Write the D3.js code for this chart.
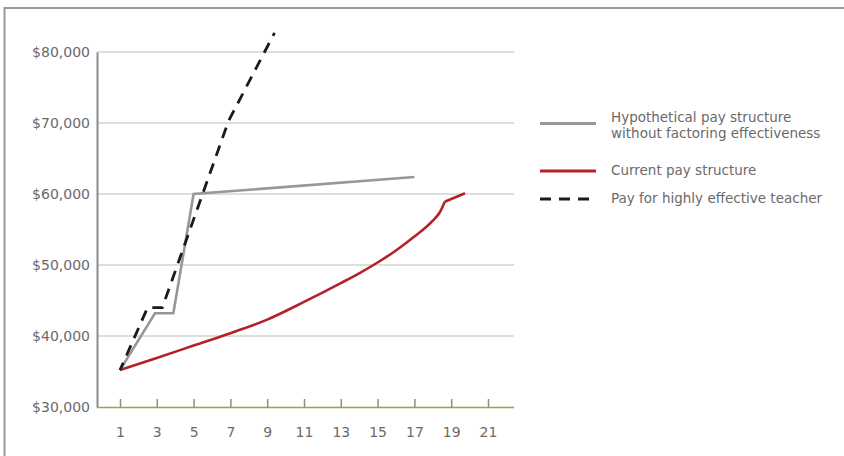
<!DOCTYPE html>
<html><head><meta charset="utf-8">
<script src="https://cdn.jsdelivr.net/npm/d3@7"></script>
<style>body{margin:0;background:#fff}svg{display:block}</style>
</head><body>
<script>
// Data (years of experience → salary)
const yTicks = [30000, 40000, 50000, 60000, 70000, 80000];
const xTicks = [1, 3, 5, 7, 9, 11, 13, 15, 17, 19, 21];
const hypotheticalYears = [1, 2.9, 3.9, 5, 17];
const hypotheticalPay   = [35200, 43200, 43200, 60000, 62400];
const currentYears = [1, 3, 5, 7, 9, 11, 13, 14, 15, 16, 17, 18, 18.4, 18.65, 19.75];
const currentPay   = [35200, 36900, 38650, 40400, 42300, 44800, 47450, 48830, 50350, 52050, 54000, 56250, 57500, 58900, 60100];
const effectiveYears = [1, 2.5, 3.3, 6.9, 9.4];
const effectivePay   = [35200, 44000, 44000, 70300, 82700];
const legendLabels = [
  ["Hypothetical pay structure", "without factoring effectiveness"],
  ["Current pay structure"],
  ["Pay for highly effective teacher"]
];

(function () {
const W = 844, H = 456;
const svg = d3.select("body").append("svg").attr("width", W).attr("height", H);
const font = "'DejaVu Sans', Verdana, sans-serif";

// frame (right/bottom edges cut off)
svg.append("path").attr("d", "M4.5,456 L4.5,8 L844,8")
  .attr("fill", "none").attr("stroke", "#9a9a9a").attr("stroke-width", 2);

const pL = 97, pR = 514, pT = 52, pB = 407;
const x = d3.scaleLinear().domain([1, 21]).range([120, 488]);
const y = d3.scaleLinear().domain([30000, 80000]).range([pB, pT]);

// gridlines
svg.append("g").selectAll("line").data(yTicks.slice(1)).join("line")
  .attr("x1", pL).attr("x2", pR)
  .attr("y1", d => y(d)).attr("y2", d => y(d))
  .attr("stroke", "#bdbdbd").attr("stroke-width", 1.2);

// y axis
const yAxis = svg.append("g").attr("transform", `translate(${pL},0)`)
  .call(d3.axisLeft(y).tickValues(yTicks).tickSize(0).tickPadding(7)
    .tickFormat(d => "$" + d3.format(",")(d)));
yAxis.select(".domain").attr("stroke", "#8c8c8c").attr("stroke-width", 2);
yAxis.selectAll("text").attr("font-family", font).attr("font-size", 14).attr("fill", "#6a6a6a");

// x axis
const xAxis = svg.append("g").attr("transform", `translate(0,${pB})`)
  .call(d3.axisBottom(x).tickValues(xTicks).tickSize(-8).tickPadding(20));
xAxis.select(".domain").remove();
xAxis.selectAll(".tick line").attr("stroke", "#8c8c8c").attr("stroke-width", 1.5);
xAxis.selectAll("text").attr("font-family", font).attr("font-size", 14).attr("fill", "#6a6a6a");
svg.append("line").attr("x1", pL).attr("x2", pR).attr("y1", pB + 0.5).attr("y2", pB + 0.5)
  .attr("stroke", "#a59f3c").attr("stroke-width", 1.5);

const line = d3.line().x(d => x(d[0])).y(d => y(d[1]));
const lineSmooth = d3.line().x(d => x(d[0])).y(d => y(d[1])).curve(d3.curveMonotoneX);

const hyp = hypotheticalYears.map((v, i) => [v, hypotheticalPay[i]]);
const cur = currentYears.map((v, i) => [v, currentPay[i]]);
const eff = effectiveYears.map((v, i) => [v, effectivePay[i]]);
const kink = currentYears.indexOf(18.65);

svg.append("path").datum(cur.slice(0, kink + 1)).attr("d", lineSmooth)
  .attr("fill", "none").attr("stroke", "#b5202a").attr("stroke-width", 2.6);
svg.append("path").datum(cur.slice(kink)).attr("d", line)
  .attr("fill", "none").attr("stroke", "#b5202a").attr("stroke-width", 2.6);
svg.append("path").datum(hyp).attr("d", line)
  .attr("fill", "none").attr("stroke", "#979797").attr("stroke-width", 2.6)
  .attr("stroke-linejoin", "miter");
svg.append("path").datum(eff).attr("d", line)
  .attr("fill", "none").attr("stroke", "#1a1a1a").attr("stroke-width", 2.8)
  .attr("stroke-dasharray", "11,8").attr("stroke-dashoffset", 3);

// legend
const legY = [123.5, 171, 199];
const legStyles = [
  {stroke: "#979797", dash: null},
  {stroke: "#b5202a", dash: null},
  {stroke: "#1a1a1a", dash: "11,8"}
];
const lg = svg.append("g");
legendLabels.forEach((lines, i) => {
  lg.append("line").attr("x1", 540).attr("x2", 596).attr("y1", legY[i]).attr("y2", legY[i])
    .attr("stroke", legStyles[i].stroke).attr("stroke-width", 2.8)
    .attr("stroke-dasharray", legStyles[i].dash);
  const t = lg.append("text").attr("x", 611)
    .attr("font-family", font).attr("font-size", 13.5).attr("fill", "#6a6a6a");
  const y0 = i === 0 ? 117 : legY[i] - 1;
  lines.forEach((s, j) => {
    t.append("tspan").attr("x", 611).attr("y", y0 + j * 16.5).attr("dy", "0.35em").text(s);
  });
});
})();
</script>
</body></html>
